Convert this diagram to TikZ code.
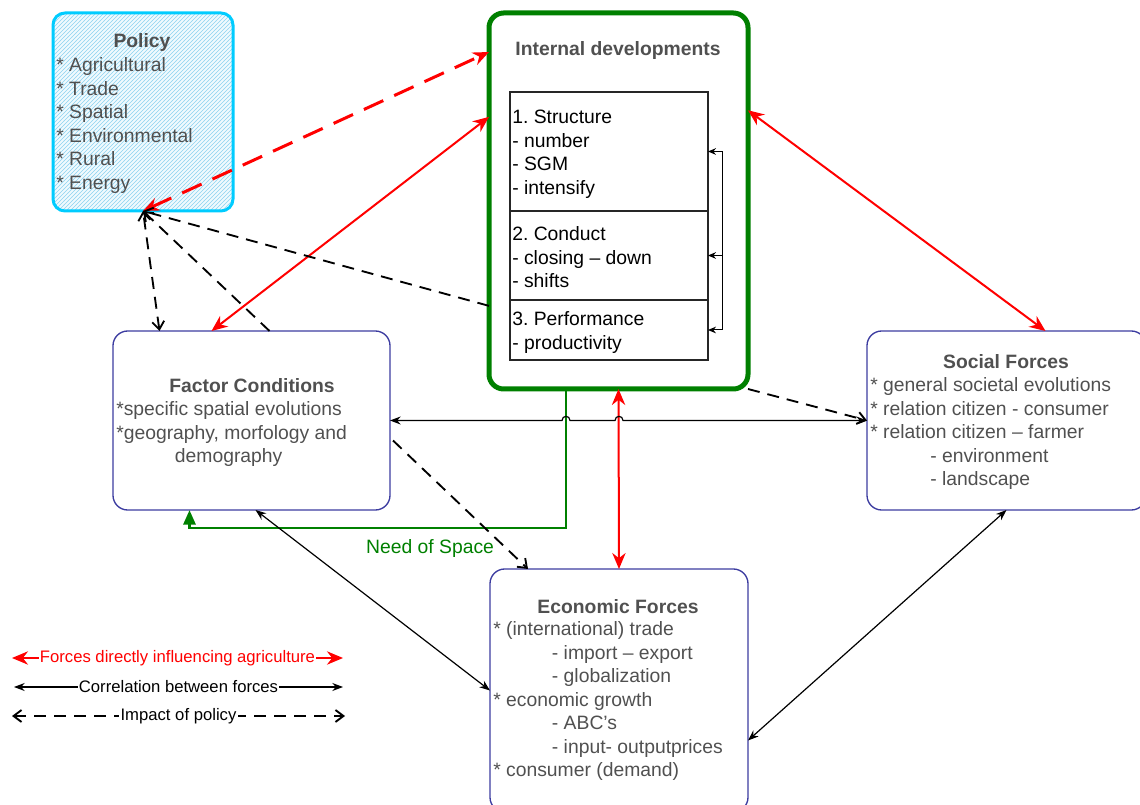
\documentclass[tikz,border=0pt]{standalone}
\usepackage{fontspec}
\setmainfont{Liberation Sans}
\usetikzlibrary{arrows.meta,calc,patterns}
\definecolor{polblue}{RGB}{0,204,255}
\definecolor{hatchblue}{RGB}{140,210,240}
\definecolor{boxblue}{RGB}{60,60,160}
\definecolor{txtgray}{RGB}{80,80,80}
\definecolor{devgreen}{RGB}{0,128,0}
\tikzset{
  forcebox/.style={draw=boxblue, line width=1pt, rounded corners=11pt, outer sep=0pt, inner sep=0pt},
  devbox/.style={draw=black!85, line width=0.8pt, minimum width=148.5pt, outer sep=0pt, inner sep=0pt},
  titletext/.style={font=\fontsize{14.5}{17.6}\selectfont\bfseries, text=txtgray, inner sep=0pt},
  bodytext/.style={font=\fontsize{14.5}{17.6}\selectfont, text=txtgray, anchor=base west, inner sep=0pt},
  legtext/.style={font=\fontsize{12.5}{15}\selectfont, fill=white, inner sep=1pt},
  force/.style={red, line width=1.5pt, {Stealth[length=12pt,width=10pt]}-{Stealth[length=12pt,width=10pt]}},
  forcedash/.style={force, line width=2.25pt, dash pattern=on 16pt off 9pt},
  corr/.style={black, line width=0.9pt, {Stealth[length=8pt,width=6pt]}-{Stealth[length=8pt,width=6pt]}},
  impact/.style={black, line width=1.4pt, dash pattern=on 9pt off 6pt, -{Straight Barb[length=6pt,width=9pt]}},
  impactboth/.style={impact, {Straight Barb[length=6pt,width=9pt]}-{Straight Barb[length=6pt,width=9pt]}},
  spaceline/.style={devgreen, line width=2.2pt, -{Triangle[length=11pt,width=9pt]}},
  bracketarr/.style={black, line width=0.75pt, -{Stealth[length=6pt,width=5pt]}}
}
% lines of a box, baseline on the first line
\def\lines#1{\begin{tabular}[t]{@{}l@{}}#1\end{tabular}}
\begin{document}
\frenchspacing
\begin{tikzpicture}[x=0.75pt,y=-0.75pt]
  \useasboundingbox (0,0) rectangle (1140,805);

  %%% Policy
  \node[draw=polblue, line width=2.25pt, rounded corners=9pt, outer sep=0pt,
        preaction={fill=cyan!6}, pattern=north east lines, pattern color=hatchblue,
        minimum width=135pt, minimum height=148.5pt] (pol) at (143,112) {};
  \node[titletext] (poltitle) at (142,43) {Policy};
  \node[bodytext] (poltext) at (56,72) {\lines{{*} Agricultural\\{*} Trade\\{*} Spatial\\{*} Environmental\\{*} Rural\\{*} Energy}};

  %%% Internal developments
  \node[draw=devgreen, line width=3.75pt, rounded corners=11pt, outer sep=0pt,
        minimum width=194.25pt, minimum height=282pt] (int) at (618.5,201) {};
  \node[titletext] (inttitle) at (618,51) {Internal developments};
  \node[devbox, minimum height=89.25pt] (s1) at (609,151.5) {};
  \node[devbox, minimum height=66.75pt] (s2) at (609,255.5) {};
  \node[devbox, minimum height=45pt] (s3) at (609,330) {};
  \node[bodytext, text=black] (s1text) at (512,124) {\lines{1. Structure\\- number\\- SGM\\- intensify}};
  \node[bodytext, text=black] (s2text) at (512,241) {\lines{2. Conduct\\- closing -- down\\- shifts}};
  \node[bodytext, text=black] (s3text) at (512,326) {\lines{3. Performance\\- productivity}};
  \foreach \k in {1,2,3}
    \coordinate (br\k) at ($(s\k.east)+(14,0)$);
  \draw[black, line width=0.75pt] (br1) -- (br3);
  \foreach \k in {1,2,3}
    \draw[bracketarr] (br\k) -- (s\k.east);

  %%% Factor Conditions
  \node[forcebox, minimum width=207.75pt, minimum height=134.25pt] (fac) at (251.5,420.5) {};
  \node[titletext] (factitle) at (252,386) {Factor Conditions};
  \node[bodytext] (factext) at (116,416) {\lines{{*}specific spatial evolutions\\{*}geography, morfology and\\\hspace*{44pt}demography}};

  %%% Social Forces
  \node[forcebox, minimum width=209.25pt, minimum height=134.25pt] (soc) at (1006.5,420.5) {};
  \node[titletext] (soctitle) at (1006,362) {Social Forces};
  \node[bodytext] (soctext) at (870,392) {\lines{{*} general societal evolutions\\{*} relation citizen - consumer\\{*} relation citizen -- farmer\\\hspace*{45pt}- environment\\\hspace*{45pt}- landscape}};

  %%% Economic Forces
  \node[forcebox, minimum width=193.5pt, minimum height=182.25pt] (eco) at (619,690.5) {};
  \node[titletext] (ecotitle) at (618,607) {Economic Forces};
  \node[bodytext] (ecotext) at (493,636) {\lines{{*} (international) trade\\\hspace*{44pt}- import -- export\\\hspace*{44pt}- globalization\\{*} economic growth\\\hspace*{44pt}- ABC's\\\hspace*{44pt}- input- outputprices\\{*} consumer (demand)}};

  %%% need of space
  \coordinate (gtop) at ($(int.south)+(-52.5,0)$);
  \draw[spaceline] (gtop) |- ($(fac.south)+(-62,18)$) -- ($(fac.south)+(-62,0)$);
  \node[font=\fontsize{14.5}{17.6}\selectfont, text=devgreen, inner sep=0pt] (spacelbl) at (430,549) {Need of Space};

  %%% forces directly influencing agriculture
  \draw[forcedash] (pol.south) -- (int.131.6);
  \draw[force] ($(fac.north)+(-40,0)$) -- (int.147);
  \draw[force] (int.35) -- ($(soc.north)+(39,0)$);
  \draw[force] (int.south) -- (eco.north);

  %%% correlation between forces
  \draw[corr] (fac.east) -- (562,420.5) .. controls (562,415) and (570,415) .. (570,420.5)
    -- (615,420.5) .. controls (615,415) and (623,415) .. (623,420.5) -- (soc.west);
  \draw[corr] ($(fac.south)+(4,0)$) -- (eco.west);
  \draw[corr] ($(eco.east)+(0,50)$) -- (soc.south);

  %%% impact of policy
  \draw[impactboth] ($(fac.north)+(-92,0)$) -- (pol.south);
  \draw[impact] ($(fac.north)+(18,0)$) -- (pol.south);
  \draw[impact] (int.219.3) -- (pol.south);
  \draw[impact] ($(fac.east)+(3,20)$) -- ($(eco.north)+(-91,0)$);
  \draw[impact] (int.south east) -- (soc.west);

  %%% legend
  \coordinate (lg1a) at (12,658);
  \coordinate (lg1b) at (343,658);
  \coordinate (lg2a) at (14,687);
  \coordinate (lg2b) at (343,687);
  \coordinate (lg3a) at (12,716);
  \coordinate (lg3b) at (345,716);
  \draw[force] (lg1a) -- node[legtext, text=red] (lgforce) {Forces directly influencing agriculture} (lg1b);
  \draw[corr] (lg2a) -- node[legtext] (lgcorr) {Correlation between forces} (lg2b);
  \draw[impactboth] (lg3a) -- node[legtext] (lgimpact) {Impact of policy} (lg3b);
\end{tikzpicture}
\end{document}
